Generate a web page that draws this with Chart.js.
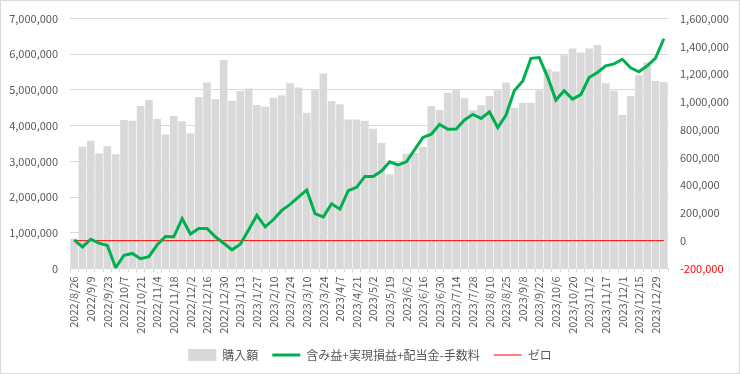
<!DOCTYPE html>
<html>
<head>
<meta charset="utf-8">
<script src="https://cdn.jsdelivr.net/npm/chart.js@4/dist/chart.umd.min.js"></script>
<style>
  body { margin: 0; background: #fff; }
  #wrap { width: 740px; height: 374px; }
</style>
</head>
<body>
<div id="wrap"><canvas id="chart" width="740" height="374"></canvas></div>
<script>
// weekly dates (last one has no label on the axis)
const dates = [
  "2022/8/26", "2022/9/2", "2022/9/9", "2022/9/16", "2022/9/23", "2022/9/30",
  "2022/10/7", "2022/10/14", "2022/10/21", "2022/10/28", "2022/11/4", "2022/11/11",
  "2022/11/18", "2022/11/25", "2022/12/2", "2022/12/9", "2022/12/16", "2022/12/23",
  "2022/12/30", "2023/1/6", "2023/1/13", "2023/1/20", "2023/1/27", "2023/2/3",
  "2023/2/10", "2023/2/17", "2023/2/24", "2023/3/3", "2023/3/10", "2023/3/17",
  "2023/3/24", "2023/3/31", "2023/4/7", "2023/4/14", "2023/4/21", "2023/4/28",
  "2023/5/2", "2023/5/12", "2023/5/19", "2023/5/26", "2023/6/2", "2023/6/9",
  "2023/6/16", "2023/6/23", "2023/6/30", "2023/7/7", "2023/7/14", "2023/7/21",
  "2023/7/28", "2023/8/4", "2023/8/10", "2023/8/18", "2023/8/25", "2023/9/1",
  "2023/9/8", "2023/9/15", "2023/9/22", "2023/9/29", "2023/10/6", "2023/10/13",
  "2023/10/20", "2023/10/27", "2023/11/2", "2023/11/10", "2023/11/17", "2023/11/24",
  "2023/12/1", "2023/12/8", "2023/12/15", "2023/12/22", "2023/12/29", "2024/1/5",
];

// 購入額 (left axis)
const purchase = [
  830000, 3410000, 3580000, 3220000, 3420000, 3200000,
  4160000, 4140000, 4550000, 4720000, 4190000, 3750000,
  4270000, 4120000, 3790000, 4800000, 5210000, 4740000,
  5840000, 4690000, 4970000, 5040000, 4580000, 4530000,
  4780000, 4850000, 5190000, 5070000, 4360000, 4990000,
  5460000, 4690000, 4600000, 4170000, 4170000, 4140000,
  3910000, 3520000, 2640000, 2920000, 3210000, 3240000,
  3400000, 4550000, 4440000, 4920000, 5020000, 4770000,
  4430000, 4580000, 4830000, 4990000, 5210000, 4500000,
  4640000, 4640000, 4990000, 5580000, 5520000, 5970000,
  6160000, 6050000, 6160000, 6260000, 5190000, 4980000,
  4300000, 4830000, 5410000, 5780000, 5250000, 5220000,
];

// 含み益+実現損益+配当金-手数料 (right axis)
const profit = [
  5000, -45000, 10000, -18000, -35000, -195000,
  -105000, -92000, -130000, -115000, -30000, 30000,
  28000, 159000, 48000, 88000, 88000, 28000,
  -19000, -66000, -26000, 76000, 183000, 100000,
  152000, 218000, 261000, 313000, 365000, 195000,
  171000, 266000, 227000, 360000, 384000, 463000,
  463000, 502000, 568000, 545000, 568000, 656000,
  744000, 767000, 838000, 803000, 805000, 870000,
  910000, 881000, 928000, 815000, 905000, 1082000,
  1148000, 1314000, 1319000, 1180000, 1013000, 1080000,
  1020000, 1052000, 1175000, 1212000, 1260000, 1274000,
  1307000, 1245000, 1217000, 1260000, 1316000, 1455000,
];

// ゼロ reference line
const zero = dates.map(() => 0);

const leftTicks = { min: 0, max: 7000000, step: 1000000 };
const rightTicks = { min: -200000, max: 1600000, step: 200000 };

const textColor = "#595959";
const gridColor = "#d9d9d9";
const font = { family: "'Noto Sans CJK JP', 'Noto Sans', sans-serif", size: 11 };

const frame = {
  id: "frame",
  beforeDraw(chart) {
    const { ctx, width, height } = chart;
    ctx.save();
    ctx.fillStyle = "#fff";
    ctx.fillRect(0, 0, width, height);
    ctx.restore();
  },
  afterDraw(chart) {
    const { ctx, width, height } = chart;
    ctx.save();
    ctx.strokeStyle = gridColor;
    ctx.lineWidth = 1;
    ctx.strokeRect(0.5, 0.5, width - 1, height - 1);
    ctx.restore();
  },
};

const legendStyles = [
  { pointStyle: "rect", lineWidth: 0 },
  { pointStyle: "line", lineWidth: 3 },
  { pointStyle: "line", lineWidth: 1 },
];

new Chart(document.getElementById("chart"), {
  data: {
    labels: dates,
    datasets: [
      {
        type: "bar",
        label: "購入額",
        data: purchase,
        yAxisID: "y",
        backgroundColor: "#d9d9d9",
        barPercentage: 0.92,
        categoryPercentage: 1,
        order: 3,
      },
      {
        type: "line",
        label: "含み益+実現損益+配当金-手数料",
        data: profit,
        yAxisID: "y1",
        borderColor: "#00b050",
        backgroundColor: "#00b050",
        borderWidth: 3,
        pointRadius: 0,
        tension: 0,
        order: 1,
      },
      {
        type: "line",
        label: "ゼロ",
        data: zero,
        yAxisID: "y1",
        borderColor: "#ff0000",
        backgroundColor: "#ff0000",
        borderWidth: 1,
        pointRadius: 0,
        order: 2,
      },
    ],
  },
  options: {
    responsive: false,
    animation: false,
    layout: { padding: { top: 15, bottom: 3, left: 0, right: 0 } },
    plugins: {
      tooltip: { enabled: false },
      legend: {
        position: "bottom",
        labels: {
          color: textColor,
          font: { family: font.family, size: 12 },
          usePointStyle: true,
          pointStyleWidth: 28,
          boxHeight: 12,
          padding: 14,
          sort: (a, b) => a.datasetIndex - b.datasetIndex,
          generateLabels: (chart) =>
            Chart.defaults.plugins.legend.labels.generateLabels(chart).map((item) => {
              const s = legendStyles[item.datasetIndex];
              item.pointStyle = s.pointStyle;
              item.lineWidth = s.lineWidth;
              item.strokeStyle = chart.data.datasets[item.datasetIndex].borderColor || item.fillStyle;
              return item;
            }),
        },
      },
    },
    scales: {
      x: {
        offset: true,
        grid: {
          offset: true,
          drawOnChartArea: false,
          drawTicks: true,
          tickLength: 4,
          color: gridColor,
        },
        border: { color: gridColor },
        ticks: {
          autoSkip: false,
          minRotation: 90,
          maxRotation: 90,
          padding: 4,
          color: textColor,
          font: font,
          callback: (v, i) => (i % 2 === 0 && i < 71 ? dates[i] : ""),
        },
        afterFit: (scale) => {
          scale.height = 66.6;
        },
      },
      y: {
        position: "left",
        min: leftTicks.min,
        max: leftTicks.max,
        grid: { color: gridColor, drawTicks: false },
        border: { display: false },
        ticks: {
          stepSize: leftTicks.step,
          padding: 12,
          color: textColor,
          font: font,
          callback: (v) => v.toLocaleString("en-US"),
        },
        afterFit: (scale) => {
          scale.width = 70;
        },
      },
      y1: {
        position: "right",
        min: rightTicks.min,
        max: rightTicks.max,
        grid: { display: false, drawTicks: false },
        border: { display: false },
        ticks: {
          stepSize: rightTicks.step,
          padding: 12,
          color: (ctx) => (ctx.tick && ctx.tick.value < 0 ? "#ff0000" : textColor),
          font: font,
          callback: (v) => v.toLocaleString("en-US"),
        },
        afterFit: (scale) => {
          scale.width = 72;
        },
      },
    },
  },
  plugins: [frame],
});
</script>
</body>
</html>
